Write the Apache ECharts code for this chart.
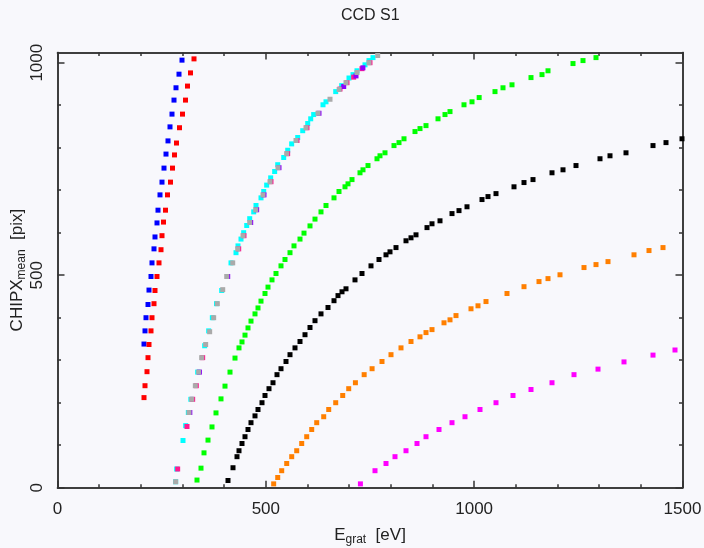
<!DOCTYPE html>
<html>
<head>
<meta charset="utf-8">
<script src="https://cdn.jsdelivr.net/npm/echarts@6/dist/echarts.min.js"></script>
<style>
  html, body { margin: 0; padding: 0; background: #f8f8fc; }
  #chart { width: 704px; height: 548px; }
</style>
</head>
<body>
<div id="chart"></div>
<script>
// tick values
const xMajor = [0, 500, 1000, 1500]
const xMinor = [100, 200, 300, 400, 600, 700, 800, 900, 1100, 1200, 1300, 1400]
const yMajor = [0, 500, 1000]
const yMinor = [100, 200, 300, 400, 600, 700, 800, 900]

// [E_grat, CHIPX_mean]
const blue = [[298.8, 1006], [291.6, 973], [284.4, 941], [279.6, 912], [274.8, 879], [270, 849], [265.2, 816],
  [260.4, 785], [255.6, 752], [250.8, 719], [246, 689], [241.2, 653], [238.8, 623], [234, 590], [231.6, 562],
  [226.8, 529], [224.4, 497], [219.6, 465], [217.2, 431], [212.4, 400], [210, 369], [207.6, 338]]
const red = [[327.6, 1009], [319.2, 976], [312, 945], [307.2, 912], [300, 879], [292.8, 847], [285.6, 811],
  [280.8, 783], [276, 752], [271.2, 719], [264, 689], [259.2, 653], [254.4, 625], [250.8, 593], [248.4, 560],
  [243.6, 529], [238.8, 497], [234, 464], [231.6, 433], [226.8, 400], [224.4, 369], [219.6, 337], [217.2, 306],
  [214.8, 273], [210, 240], [207.6, 212]]
const cyan = [[283.6, 14], [286, 44], [301.2, 111], [307.6, 146], [314, 177], [320, 208], [336.4, 272],
  [353.2, 334], [362.8, 369], [371.6, 400], [381.6, 433], [394, 464], [416.4, 529], [428.4, 553], [433.2, 569],
  [440.4, 585], [446.8, 600], [454.1, 617], [461.3, 633], [470.9, 649], [476.4, 664], [488.4, 682], [494.9, 697],
  [502, 712], [511.6, 729], [521.2, 744], [528.5, 760], [542.9, 777], [552.5, 794], [562, 809], [576.5, 824],
  [588.5, 840], [600.5, 857], [607.7, 868], [614.8, 878], [637.2, 901], [644.4, 908], [667.7, 932], [682, 946],
  [699.6, 964], [709.2, 972], [718.8, 981], [738, 995], [747.6, 1005], [757.2, 1012]]
const pink = [[288.4, 44], [310.8, 144], [324.4, 208], [333.2, 240], [348.4, 306], [434.9, 562], [447.6, 593],
  [512.4, 720], [552.4, 786], [574.8, 817], [598.8, 847], [678, 938], [694.8, 953], [710.8, 966], [730.8, 986],
  [750, 1000]]
const purple = [[317.6, 177], [340.8, 272], [408.5, 497], [463.7, 624], [478, 654], [495.6, 689], [531.6, 753],
  [627.6, 881], [686.9, 944], [716.4, 969], [733, 988]]
const gray = [[283.6, 14], [315.6, 177], [322, 208], [330.8, 240], [338.8, 272], [346, 306], [355.6, 337],
  [365.2, 367], [374.8, 400], [383.6, 433], [396.5, 466], [406.1, 497], [420.5, 529], [432.5, 562], [445.2, 593],
  [461.3, 624], [475.7, 654], [493.2, 689], [510, 720], [529.2, 753], [550, 786], [572.4, 817], [596.4, 847],
  [625.2, 881], [654, 914], [676, 937], [692.4, 953], [718.8, 977], [747.6, 1000], [768.5, 1017]]
const green = [[334.8, 18], [344.4, 46], [351.6, 82], [361.2, 112], [370.8, 143], [380.4, 176], [392.4, 209],
  [402, 239], [414, 272], [426, 305], [435.6, 329], [442.8, 343], [450, 359], [457.2, 376], [464.4, 392],
  [474, 409], [481.2, 423], [488.4, 439], [498, 457], [505.2, 472], [514.8, 489], [524.4, 504], [536.4, 522],
  [546, 537], [558, 553], [567.6, 569], [582, 585], [591.6, 599], [606, 616], [618, 632], [632.4, 649],
  [644.4, 664], [663.6, 682], [675.6, 697], [690, 708], [697.2, 715], [706.8, 725], [726, 741], [733.2, 748],
  [745.2, 758], [766.8, 774], [774, 781], [786, 788], [807.6, 805], [819.6, 812], [831.6, 821], [858, 838],
  [870, 845], [884.4, 852], [913.2, 868], [930, 878], [942, 885], [975.6, 901], [994.8, 908], [1012, 918],
  [1050, 932], [1069.2, 941], [1090.8, 948], [1136.4, 965], [1162.8, 972], [1177.2, 981], [1237.2, 998],
  [1261.2, 1005], [1292.4, 1012]]
const black = [[409.2, 17], [421.2, 47], [430.8, 73], [435.6, 87], [442.8, 104], [450, 120], [457.2, 137],
  [464.4, 153], [474, 169], [481.2, 184], [490.8, 200], [498, 217], [507.6, 233], [517.2, 247], [526.8, 266],
  [536.4, 280], [548.4, 297], [558, 313], [570, 329], [582, 344], [594, 360], [606, 377], [618, 393],
  [632.4, 409], [649.2, 424], [663.6, 440], [673.2, 452], [682.8, 461], [692.4, 468], [714, 489], [730.8, 504],
  [752.4, 522], [771.6, 537], [788.4, 548], [798, 555], [812.4, 565], [836.4, 581], [848.4, 588], [860.4, 595],
  [886.8, 612], [898.8, 621], [918, 628], [946.8, 645], [963.6, 652], [982.8, 661], [1018.8, 678], [1033.2, 685],
  [1052.4, 692], [1095.6, 708], [1119.6, 718], [1141.2, 725], [1186.8, 741], [1213.2, 748], [1244.4, 758],
  [1302, 774], [1326, 781], [1364.4, 788], [1429.2, 805], [1460.4, 812], [1498.8, 821]]
const orange = [[518.8, 9], [528.5, 24], [538.1, 40], [550.1, 57], [562.1, 73], [574.1, 87], [586.1, 104],
  [598.1, 120], [610.1, 137], [622.1, 153], [638.9, 167], [650.9, 184], [667.7, 200], [684.5, 217], [698.9, 233],
  [715, 247], [736, 266], [755, 280], [778.8, 297], [800.4, 313], [824.4, 329], [848.4, 344], [870, 355],
  [884.4, 365], [898.8, 372], [927.6, 388], [942, 395], [956.4, 405], [992.4, 421], [1009.2, 428], [1028.4, 438],
  [1078.8, 457], [1119.6, 473], [1155.6, 485], [1177.2, 492], [1206, 501], [1263.6, 518], [1292.4, 525],
  [1321.2, 532], [1383.6, 548], [1419.6, 558], [1453.2, 565]]
const magenta = [[727, 9], [762, 40], [788.4, 57], [810, 73], [836.4, 87], [862.8, 104], [884.4, 120],
  [915.6, 137], [946.8, 153], [978, 167], [1014, 184], [1052.4, 200], [1093.2, 217], [1136.4, 231],
  [1186.8, 247], [1239.6, 266], [1297.2, 279], [1359.6, 296], [1429.2, 312], [1482, 324]]

const font = 'Liberation Sans'
const ink = '#222'
const plain = (v) => String(v)

const chart = echarts.init(document.getElementById('chart'), null, { renderer: 'canvas' })

function xAx(position, ticks, len, label) {
  return {
    type: 'value', position, min: 0, max: 1500, gridIndex: 0,
    axisLine: { show: true, onZero: false, lineStyle: { color: '#333', width: 1.5 } },
    axisTick: { show: true, inside: true, length: len, customValues: ticks, lineStyle: { color: '#333', width: 1.5 } },
    axisLabel: label
      ? { show: true, customValues: ticks, formatter: plain, margin: 13, fontSize: 17, fontFamily: font, color: ink }
      : { show: false },
    splitLine: { show: false }
  }
}

function yAx(position, ticks, len, label) {
  return {
    type: 'value', position, min: 0, max: 1024, gridIndex: 0,
    axisLine: { show: true, onZero: false, lineStyle: { color: '#333', width: 1.5 } },
    axisTick: { show: true, inside: true, length: len, customValues: ticks, lineStyle: { color: '#333', width: 1.5 } },
    axisLabel: label
      ? { show: true, customValues: ticks, formatter: plain, rotate: 90, margin: 12, fontSize: 17, fontFamily: font, color: ink }
      : { show: false },
    splitLine: { show: false }
  }
}

const xBottom = xAx('bottom', xMajor, 7, true)
xBottom.name = '{a|E}{s|grat}{a|  [eV]}'
xBottom.nameLocation = 'middle'
xBottom.nameGap = 37
xBottom.nameTextStyle = {
  rich: {
    a: { fontSize: 17, fontFamily: font, color: ink },
    s: { fontSize: 12, fontFamily: font, color: ink, verticalAlign: 'bottom', padding: [9, 0, 0, 0] }
  }
}

const yLeft = yAx('left', yMajor, 7, true)
yLeft.name = '{a|CHIPX}{s|mean}{a|  [pix]}'
yLeft.nameLocation = 'middle'
yLeft.nameRotate = 90
yLeft.nameGap = 30
yLeft.nameMoveOverlap = false
yLeft.nameTextStyle = {
  rich: {
    a: { fontSize: 17, fontFamily: font, color: ink },
    s: { fontSize: 12, fontFamily: font, color: ink, verticalAlign: 'bottom', padding: [9, 0, 0, 0] }
  }
}

const dots = (name, data, color) => ({
  name, type: 'scatter', data, symbol: 'rect', symbolSize: 5,
  itemStyle: { color, opacity: 1 }, xAxisIndex: 0, yAxisIndex: 0, silent: true
})

chart.setOption({
  backgroundColor: '#f8f8fc',
  animation: false,
  title: {
    text: 'CCD S1', left: 336, top: 3,
    textStyle: { fontSize: 16, fontWeight: 'normal', fontFamily: font, color: ink }
  },
  grid: { left: 57.5, right: 21.5, top: 52.5, bottom: 60.3, containLabel: false, outerBoundsMode: 'none' },
  xAxis: [xBottom, xAx('bottom', xMinor, 3.5, false), xAx('top', xMajor, 7, false), xAx('top', xMinor, 3.5, false)],
  yAxis: [yLeft, yAx('left', yMinor, 3.5, false), yAx('right', yMajor, 7, false), yAx('right', yMinor, 3.5, false)],
  series: [
    dots('blue', blue, '#0000ff'),
    dots('red', red, '#ff0000'),
    dots('cyan', cyan, '#00ffff'),
    dots('pink', pink, '#ff1a90'),
    dots('purple', purple, '#8f00ff'),
    dots('gray', gray, '#aaaaaa'),
    dots('green', green, '#00ff00'),
    dots('black', black, '#000000'),
    dots('orange', orange, '#ff7f00'),
    dots('magenta', magenta, '#ff00ff')
  ]
})
</script>
</body>
</html>
